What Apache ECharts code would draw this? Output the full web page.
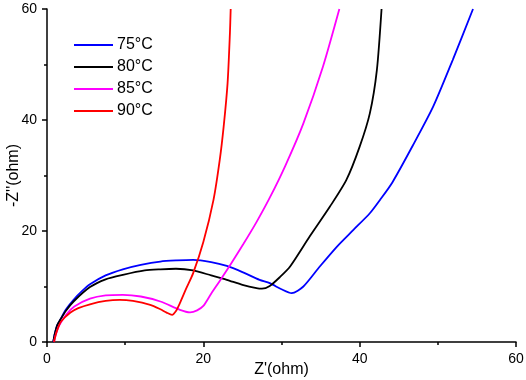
<!DOCTYPE html>
<html>
<head>
<meta charset="utf-8">
<script src="https://cdn.jsdelivr.net/npm/echarts@6/dist/echarts.min.js"></script>
<style>html,body{margin:0;padding:0;background:#fff;}#c{width:526px;height:380px;}</style>
</head>
<body>
<div id="c"></div>
<script>
var seriesNames = ['75°C', '80°C', '85°C', '90°C'];
var seriesColors = ['#0000FF', '#000000', '#FF00FF', '#FF0000'];

var data75 = [[0.8,0],[1.0,1.5],[1.3,3.0],[1.7,4.0],[2.4,5.8],[3.4,7.6],[4.5,9.2],[5.5,10.4],[7.5,12.0],[9.7,13.1],[12,13.9],[14.5,14.5],[16.6,14.7],[18.7,14.8],[21,14.4],[23,13.7],[25,12.6],[27.2,11.2],[28.5,10.6],[30,9.5],[31.3,8.8],[32.8,10.0],[34.9,13.6],[37.1,17.2],[39.2,20.2],[41.3,23.2],[42.6,25.6],[44.2,28.8],[46.8,35.4],[49.4,42.4],[51.9,50.8],[54.5,60]];
var data80 = [[0.8,0],[1.0,1.5],[1.3,3.0],[1.7,4.0],[2.4,5.6],[3.4,7.3],[5.5,9.9],[7.5,11.3],[9.7,12.1],[12.5,12.9],[14.5,13.1],[16.5,13.2],[18.7,12.9],[21,12.0],[23,11.2],[25,10.3],[26.8,9.7],[27.5,9.6],[28.5,10.1],[29.8,11.7],[31.1,13.6],[33.6,19.0],[36.2,24.4],[38.3,29.2],[40.0,35.2],[41.3,41.2],[42.2,49],[42.8,60]];
var data85 = [[0.9,0],[1.1,1.2],[1.5,2.8],[2.5,5.0],[3.5,6.4],[5.5,7.8],[7.5,8.4],[9.7,8.5],[12,8.2],[14.5,7.3],[17,5.8],[18.3,5.35],[19.2,5.7],[20,6.5],[21,8.7],[22.1,11.0],[23.5,14.0],[25.1,17.6],[26.8,21.6],[28.5,26.0],[30.5,31.8],[32.8,39.4],[35.3,49.6],[37.4,60]];
var data90 = [[0.9,0],[1.1,1.2],[1.4,2.5],[1.8,3.7],[3,5.3],[4,6.1],[5.5,6.8],[7.5,7.4],[9.3,7.6],[11,7.4],[13.2,6.7],[14.5,5.9],[15.3,5.3],[16,4.9],[16.5,5.6],[17,7.0],[17.8,9.6],[18.7,12.4],[20,18.0],[21.3,25.6],[22.1,32.8],[22.6,38.8],[23.1,46.6],[23.4,55.6],[23.5,60]];
var allData = [data75, data80, data85, data90];

var xTicks = {min: 0, max: 60, interval: 20};
var yTicks = {min: 0, max: 60, interval: 20};

var font = 'Liberation Sans, Arial, sans-serif';
var chart = echarts.init(document.getElementById('c'), null, {renderer: 'canvas'});

var axisCommon = {
  type: 'value',
  nameLocation: 'middle',
  nameMoveOverlap: false,
  nameTextStyle: {fontFamily: font, fontSize: 16, color: '#000'},
  axisLine: {show: true, onZero: false, lineStyle: {color: '#000', width: 1.5}},
  axisTick: {show: true, length: 5, lineStyle: {color: '#000', width: 1.5}},
  minorTick: {show: true, splitNumber: 2, length: 3, lineStyle: {color: '#000', width: 1.5}},
  splitLine: {show: false},
  axisLabel: {fontFamily: font, fontSize: 14, color: '#000', margin: 10}
};

chart.setOption({
  animation: false,
  backgroundColor: '#fff',
  grid: {left: 47, right: 10, top: 9, bottom: 38, containLabel: false, outerBoundsMode: 'none'},
  legend: {
    orient: 'vertical',
    left: 69, top: 32,
    itemWidth: 39, itemHeight: 14, itemGap: 6,
    icon: 'path://M0,6 L40,6 L40,8 L0,8 Z',
    textStyle: {fontFamily: font, fontSize: 16, color: '#000', padding: [0,0,0,-1]},
    data: seriesNames
  },
  xAxis: Object.assign({}, axisCommon, {
    name: "Z'(ohm)", nameGap: 20,
    min: xTicks.min, max: xTicks.max, interval: xTicks.interval
  }),
  yAxis: Object.assign({}, axisCommon, {
    name: "-Z''(ohm)", nameGap: 25,
    min: yTicks.min, max: yTicks.max, interval: yTicks.interval
  }),
  series: seriesNames.map(function (n, i) {
    return {
      name: n, type: 'line', data: allData[i],
      showSymbol: false, symbol: 'none', smooth: 0.25,
      clip: true,
      lineStyle: {color: seriesColors[i], width: 1.8},
      itemStyle: {color: seriesColors[i]}
    };
  })
});
</script>
</body>
</html>
